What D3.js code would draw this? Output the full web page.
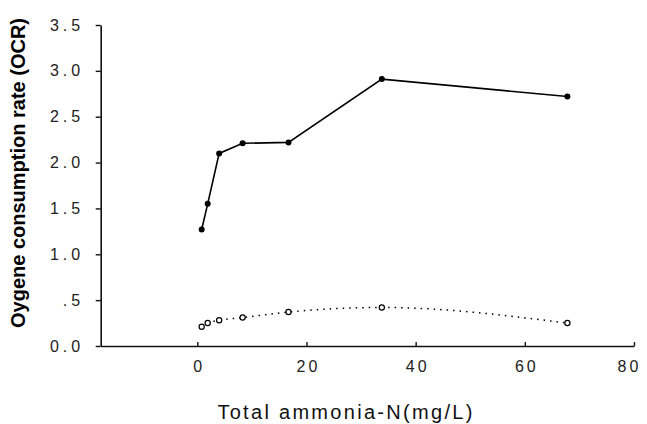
<!DOCTYPE html>
<html lang="en">
<head>
<meta charset="UTF-8">
<title>OCR vs total ammonia-N</title>
<script src="https://d3js.org/d3.v7.min.js"></script>
<style>
  html, body { margin: 0; padding: 0; background: #fff; }
  svg text { font-family: "Liberation Sans", Arial, sans-serif; }
</style>
</head>
<body>
<svg id="chart" width="647" height="424"></svg>
<script>
// data
const ammonia = [0.8, 1.9, 4.0, 8.3, 16.7, 33.8, 67.8];
const ocrHigh = [1.27, 1.55, 2.10, 2.21, 2.22, 2.91, 2.72];
const ocrLow  = [0.21, 0.25, 0.28, 0.31, 0.37, 0.42, 0.25];

const xTicks = [0, 20, 40, 60, 80];
const xTickLabels = ["0", "20", "40", "60", "80"];
const yTicks = [0, 0.5, 1, 1.5, 2, 2.5, 3, 3.5];
const yTickLabels = ["0.0", ".5", "1.0", "1.5", "2.0", "2.5", "3.0", "3.5"];

const svg = d3.select("#chart");

const x = d3.scaleLinear().domain([-17.7, 80]).range([100.7, 634]);
const y = d3.scaleLinear().domain([0, 3.5]).range([346, 25]);

// axes
const xAxis = svg.append("g")
    .attr("transform", `translate(0,${y(0)})`)
    .call(d3.axisBottom(x)
        .tickValues(xTicks)
        .tickFormat((d, i) => xTickLabels[i])
        .tickSize(5)
        .tickSizeOuter(0));

const yAxis = svg.append("g")
    .attr("transform", `translate(${x(-17.7)},0)`)
    .call(d3.axisLeft(y)
        .tickValues(yTicks)
        .tickFormat((d, i) => yTickLabels[i])
        .tickSize(5)
        .tickSizeOuter(0));

[xAxis, yAxis].forEach(g => {
    g.select(".domain").attr("stroke", "#111").attr("stroke-width", 1.6);
    g.selectAll(".tick line").attr("stroke", "#111").attr("stroke-width", 1.4);
    g.selectAll(".tick text")
        .attr("fill", "#222")
        .attr("font-size", 16);
});
yAxis.selectAll(".tick text").style("letter-spacing", "4px").attr("x", -16.5);
// upward tick marks on the x axis sit under the line
xAxis.selectAll(".tick line").attr("y2", -4);
xAxis.selectAll(".tick text")
    .style("letter-spacing", "3px")
    .attr("y", 15)
    .attr("dx", d => d === 80 ? -5 : 1.5);

// upper series: solid line with filled markers
const line = d3.line().x(d => x(d[0])).y(d => y(d[1]));
const high = ammonia.map((a, i) => [a, ocrHigh[i]]);
const low = ammonia.map((a, i) => [a, ocrLow[i]]);

svg.append("path")
    .datum(high)
    .attr("d", line)
    .attr("fill", "none")
    .attr("stroke", "#000")
    .attr("stroke-width", 1.6);

svg.selectAll(".hi")
    .data(high)
    .enter().append("circle")
    .attr("class", "hi")
    .attr("cx", d => x(d[0]))
    .attr("cy", d => y(d[1]))
    .attr("r", 3)
    .attr("fill", "#000");

// lower series: smooth dotted line with open markers
svg.append("path")
    .datum(low)
    .attr("d", line.curve(d3.curveMonotoneX))
    .attr("fill", "none")
    .attr("stroke", "#000")
    .attr("stroke-width", 1.5)
    .attr("stroke-dasharray", "1.5,5");

svg.selectAll(".lo")
    .data(low)
    .enter().append("circle")
    .attr("class", "lo")
    .attr("cx", d => x(d[0]))
    .attr("cy", d => y(d[1]))
    .attr("r", 2.6)
    .attr("fill", "#fff")
    .attr("stroke", "#000")
    .attr("stroke-width", 1.2);

// axis titles
svg.append("text")
    .attr("x", 346)
    .attr("y", 419)
    .attr("text-anchor", "middle")
    .attr("font-size", 20)
    .attr("fill", "#111")
    .style("letter-spacing", "2.3px")
    .text("Total ammonia-N(mg/L)");

svg.append("text")
    .attr("transform", "translate(25,173) rotate(-90)")
    .attr("text-anchor", "middle")
    .attr("font-size", 20)
    .attr("font-weight", "bold")
    .attr("fill", "#000")
    .text("Oygene consumption rate (OCR)");
</script>
</body>
</html>
